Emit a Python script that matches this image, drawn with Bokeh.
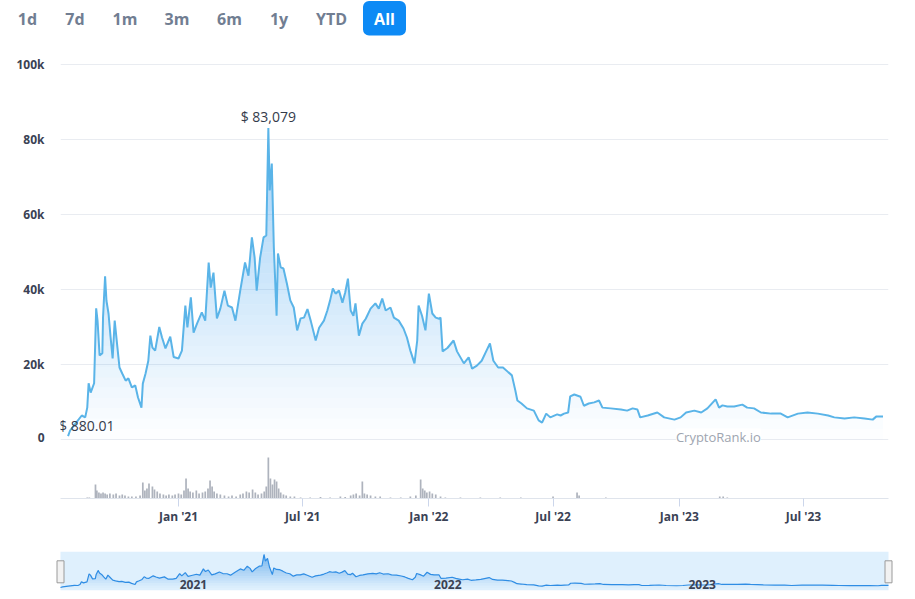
import numpy as np
import pandas as pd
from bokeh.plotting import figure
from bokeh.layouts import column
from bokeh.models import (Range1d, FixedTicker, NumeralTickFormatter,
                          DatetimeTickFormatter, Label)
from bokeh.embed import file_html
from bokeh.resources import INLINE
from bokeh.core.properties import value

# ---------------- data ----------------
range_buttons = ["1d", "7d", "1m", "3m", "6m", "1y", "YTD", "All"]
active_button = "All"

price_dates = [
    "2020-07-24", "2020-07-27", "2020-08-04", "2020-08-13", "2020-08-18", "2020-08-21",
    "2020-08-23", "2020-08-26", "2020-08-31", "2020-09-03", "2020-09-05", "2020-09-08",
    "2020-09-12", "2020-09-13", "2020-09-16", "2020-09-18", "2020-09-21", "2020-09-24",
    "2020-09-27", "2020-09-30", "2020-10-04", "2020-10-07", "2020-10-11", "2020-10-16",
    "2020-10-20", "2020-10-25", "2020-10-30", "2020-11-03", "2020-11-08", "2020-11-10",
    "2020-11-14", "2020-11-18", "2020-11-21", "2020-11-24", "2020-11-28", "2020-12-04",
    "2020-12-08", "2020-12-13", "2020-12-20", "2020-12-25", "2021-01-01", "2021-01-06",
    "2021-01-11", "2021-01-14", "2021-01-19", "2021-01-23", "2021-01-28", "2021-02-04",
    "2021-02-09", "2021-02-14", "2021-02-17", "2021-02-21", "2021-02-26", "2021-03-03",
    "2021-03-09", "2021-03-14", "2021-03-20", "2021-03-25", "2021-04-01", "2021-04-08",
    "2021-04-13", "2021-04-18", "2021-04-22", "2021-04-25", "2021-04-30", "2021-05-05",
    "2021-05-09", "2021-05-12", "2021-05-14", "2021-05-17", "2021-05-20", "2021-05-24",
    "2021-05-26", "2021-05-30", "2021-06-03", "2021-06-08", "2021-06-13", "2021-06-18",
    "2021-06-23", "2021-06-28", "2021-07-03", "2021-07-08", "2021-07-13", "2021-07-20",
    "2021-07-25", "2021-08-01", "2021-08-06", "2021-08-10", "2021-08-14", "2021-08-18",
    "2021-08-23", "2021-08-28", "2021-09-01", "2021-09-05", "2021-09-09", "2021-09-13",
    "2021-09-16", "2021-09-21", "2021-09-26", "2021-10-01", "2021-10-08", "2021-10-15",
    "2021-10-20", "2021-10-25", "2021-10-30", "2021-11-06", "2021-11-11", "2021-11-18",
    "2021-11-25", "2021-11-30", "2021-12-05", "2021-12-11", "2021-12-15", "2021-12-17",
    "2021-12-22", "2021-12-27", "2022-01-01", "2022-01-06", "2022-01-11", "2022-01-16",
    "2022-01-18", "2022-01-21", "2022-01-28", "2022-02-06", "2022-02-11", "2022-02-16",
    "2022-02-21", "2022-02-28", "2022-03-05", "2022-03-12", "2022-03-19", "2022-03-26",
    "2022-03-31", "2022-04-05", "2022-04-12", "2022-04-19", "2022-04-27", "2022-05-02",
    "2022-05-07", "2022-05-10", "2022-05-16", "2022-05-24", "2022-06-03", "2022-06-10",
    "2022-06-15", "2022-06-21", "2022-06-27", "2022-07-07", "2022-07-12", "2022-07-17",
    "2022-07-23", "2022-07-26", "2022-08-01", "2022-08-10", "2022-08-15", "2022-08-22",
    "2022-08-30", "2022-09-06", "2022-09-11", "2022-09-23", "2022-10-08", "2022-10-17",
    "2022-10-25", "2022-11-01", "2022-11-05", "2022-11-16", "2022-11-30", "2022-12-10",
    "2022-12-25", "2023-01-03", "2023-01-11", "2023-01-23", "2023-02-02", "2023-02-11",
    "2023-02-19", "2023-02-23", "2023-02-28", "2023-03-05", "2023-03-12", "2023-03-22",
    "2023-04-03", "2023-04-10", "2023-04-20", "2023-04-30", "2023-05-15", "2023-05-29",
    "2023-06-08", "2023-06-23", "2023-07-07", "2023-07-22", "2023-08-06", "2023-08-15",
    "2023-08-30", "2023-09-13", "2023-09-28", "2023-10-10", "2023-10-15", "2023-10-25",
]
price_usd = [
    880.01, 2400, 4300, 6400, 5900, 8500,
    15000, 12500, 15000, 35000, 31700, 22400,
    23000, 32600, 43500, 37000, 33600, 27300,
    21600, 31700, 24500, 19200, 17600, 15700,
    16300, 13900, 14400, 11200, 8500, 14900,
    17600, 21000, 27700, 24500, 23700, 30000,
    27200, 24300, 27400, 22000, 21600, 23700,
    35700, 29900, 37900, 28500, 30900, 33900,
    31700, 47200, 40500, 44500, 32300, 34900,
    39700, 35700, 35200, 31700, 39700, 47200,
    43700, 53900, 48500, 39700, 48500, 53900,
    54400, 83079, 66400, 73600, 51200, 33000,
    49600, 45900, 45600, 41600, 37100, 35200,
    29100, 32300, 32500, 34800, 31500, 26400,
    29800, 31700, 34400, 37100, 40300, 38900,
    39700, 36500, 39200, 42900, 34400, 33000,
    36300, 27700, 30900, 32200, 34900, 36300,
    34900, 37600, 34400, 35200, 32500, 31700,
    29600, 27200, 23700, 20300, 26400, 35700,
    33000, 29100, 38900, 33600, 32500, 32200,
    32500, 23500, 24400, 26400, 23500, 21900,
    20300, 21900, 18900, 19700, 21000, 23700,
    25600, 21000, 19200, 19200, 17900, 17100,
    13100, 10400, 9600, 8300, 7700, 5100,
    4500, 6900, 5900, 6700, 6400, 6900,
    7200, 11500, 12000, 11400, 9000, 9600,
    9900, 10400, 8500, 8300, 8000, 7700,
    8300, 8000, 5900, 6400, 7200, 5900,
    5300, 5900, 7200, 7700, 7200, 8300,
    9900, 10700, 8500, 9100, 8800, 8800,
    9300, 8500, 8300, 7200, 6900, 6900,
    5900, 6900, 7200, 6900, 6400, 5900,
    5600, 5900, 5600, 5300, 6100, 6100,
]

volume_dates = [
    "2020-08-21", "2020-08-24", "2020-09-02", "2020-09-04", "2020-09-07", "2020-09-10",
    "2020-09-13", "2020-09-16", "2020-09-19", "2020-09-23", "2020-09-28", "2020-10-02",
    "2020-10-07", "2020-10-11", "2020-10-15", "2020-10-20", "2020-10-25", "2020-10-31",
    "2020-11-06", "2020-11-10", "2020-11-13", "2020-11-16", "2020-11-19", "2020-11-24",
    "2020-11-27", "2020-12-01", "2020-12-05", "2020-12-10", "2020-12-14", "2020-12-18",
    "2020-12-23", "2020-12-27", "2021-01-01", "2021-01-05", "2021-01-09", "2021-01-12",
    "2021-01-15", "2021-01-18", "2021-01-22", "2021-01-27", "2021-01-31", "2021-02-05",
    "2021-02-09", "2021-02-13", "2021-02-16", "2021-02-19", "2021-02-22", "2021-02-26",
    "2021-03-03", "2021-03-09", "2021-03-15", "2021-03-20", "2021-03-26", "2021-04-01",
    "2021-04-05", "2021-04-10", "2021-04-14", "2021-04-19", "2021-04-23", "2021-04-27",
    "2021-05-02", "2021-05-06", "2021-05-09", "2021-05-12", "2021-05-15", "2021-05-18",
    "2021-05-21", "2021-05-24", "2021-05-27", "2021-05-30", "2021-06-03", "2021-06-07",
    "2021-06-13", "2021-06-19", "2021-06-28", "2021-07-12", "2021-07-27", "2021-08-10",
    "2021-08-25", "2021-09-01", "2021-09-09", "2021-09-13", "2021-09-17", "2021-09-22",
    "2021-09-26", "2021-09-29", "2021-10-03", "2021-10-08", "2021-10-15", "2021-10-22",
    "2021-11-06", "2021-11-21", "2021-12-05", "2021-12-13", "2021-12-20", "2021-12-23",
    "2021-12-26", "2021-12-29", "2022-01-02", "2022-01-06", "2022-01-11", "2022-01-18",
    "2022-01-25", "2022-02-16", "2022-03-17", "2022-04-15", "2022-05-15", "2022-07-01",
    "2022-08-05", "2022-08-08", "2022-09-16", "2023-03-01", "2023-03-06", "2023-03-12",
]
volume_musd = [
    1, 1, 14, 8, 6, 5,
    6, 5, 4, 5, 4, 5,
    3, 4, 3, 2, 2, 2,
    3, 16, 8, 10, 15, 12,
    9, 7, 5, 4, 3, 4,
    3, 4, 5, 4, 8, 20,
    10, 7, 6, 8, 5, 6,
    7, 10, 18, 12, 7, 5,
    4, 3, 2, 3, 2, 4,
    5, 7, 6, 9, 6, 4,
    5, 7, 12, 41, 20, 14,
    19, 17, 10, 6, 4, 3,
    2, 2, 1, 1, 1.5, 1,
    2, 1.5, 3, 4, 5, 3,
    17, 5, 4, 3, 2, 2,
    1, 1, 2, 3, 19, 10,
    8, 6, 7, 5, 4, 2,
    1, 1, 1, 1, 1, 2,
    6, 3, 1, 2, 2, 1,
]

y_ticks = [0, 20000, 40000, 60000, 80000, 100000]
x_tick_dates = ["2021-01-01", "2021-07-01", "2022-01-01", "2022-07-01", "2023-01-01", "2023-07-01"]
nav_year_dates = ["2021-01-01", "2022-01-01", "2023-01-01"]
nav_year_labels = ["2021", "2022", "2023"]
view_start = "2020-07-13"
view_end = "2023-11-02"
watermark = "CryptoRank.io"

# ---------------- styles ----------------
FONT = value("Open Sans")
LABEL_COLOR = "#3a4254"
LINE_COLOR = "#5ab4e8"
FILL_COLOR = "#3fa0ee"
NAV_LINE = "#2f8de4"
NAV_BG = "#dff0fd"
VOL_COLOR = "#aeb3bd"
GRID_COLOR = "#e9ecf1"
BTN_BLUE = "#0d8af5"
BTN_GRAY = "#717e92"
W = 907

dates = pd.to_datetime(price_dates)
prices = np.array(price_usd, dtype=float)
vdates = pd.to_datetime(volume_dates)
x0 = pd.Timestamp(view_start)
x1 = pd.Timestamp(view_end)


def strip(fig):
    fig.grid.visible = False
    fig.outline_line_color = None
    fig.background_fill_color = "white"
    fig.border_fill_color = "white"


def gradient_area(fig, x, v, color, max_alpha, n):
    vmax = float(np.max(v))
    levels = np.linspace(0, vmax, n + 1)
    for i in range(n):
        y1 = np.minimum(v, levels[i])
        y2 = np.minimum(v, levels[i + 1])
        fig.varea(x=x, y1=y1, y2=y2, fill_color=color,
                  fill_alpha=max_alpha * (i + 0.5) / n)


# ---------------- range buttons ----------------
pb = figure(width=W, height=45, x_range=Range1d(0, W), y_range=Range1d(45, 0),
            x_axis_type=None, y_axis_type=None, output_backend="svg",
            toolbar_location=None, min_border=0, frame_align=False)
strip(pb)
btn_centers = [27, 74.5, 124.5, 176.5, 229, 278.5, 331, 384]
ai = range_buttons.index(active_button)
pb.quad(left=[btn_centers[ai] - 21.5], right=[btn_centers[ai] + 21.5], top=[0.5], bottom=[35],
        fill_color=BTN_BLUE, line_color=None, border_radius=6)
pb.text(x=btn_centers, y=[18.5] * len(range_buttons), text=range_buttons,
        text_align="center", text_baseline="middle", text_font=FONT,
        text_font_style="bold", text_font_size="16px",
        text_color=["white" if b == active_button else BTN_GRAY for b in range_buttons])

# ---------------- main price chart ----------------
p = figure(width=W, height=400, x_range=Range1d(x0, x1), y_range=Range1d(-1600, 102133),
           x_axis_type=None, output_backend="svg", toolbar_location=None,
           min_border_left=60, min_border_right=19, min_border_top=11, min_border_bottom=0)
strip(p)
p.ygrid.visible = True
p.ygrid.grid_line_color = GRID_COLOR
p.ygrid.ticker = FixedTicker(ticks=y_ticks)
ya = p.yaxis[0]
ya.ticker = FixedTicker(ticks=y_ticks)
ya.formatter = NumeralTickFormatter(format="0a")
ya.axis_line_color = None
ya.major_tick_line_color = None
ya.minor_tick_line_color = None
ya.major_tick_out = 0
ya.major_tick_in = 0
ya.major_label_standoff = 16
ya.major_label_text_font = "Open Sans"
ya.major_label_text_font_style = "bold"
ya.major_label_text_font_size = "12px"
ya.major_label_text_color = LABEL_COLOR

gradient_area(p, dates, prices, FILL_COLOR, 0.5, 30)
p.line(dates, prices, line_color=LINE_COLOR, line_width=2)

imax = int(np.argmax(prices))
imin = int(np.argmin(prices))
p.text(x=[dates[imax]], y=[prices[imax]], text=[f"$ {prices[imax]:,.0f}"],
       text_align="center", text_baseline="bottom", y_offset=-2,
       text_font=FONT, text_font_size="14px", text_color="#343b4b")
p.text(x=[dates[imin]], y=[prices[imin]], text=[f"$ {prices[imin]:,.2f}"],
       text_align="left", text_baseline="bottom", x_offset=-9, y_offset=-1,
       text_font=FONT, text_font_size="14px", text_color="#343b4b")

wm = Label(x=pd.Timestamp("2023-02-27"), y=0, text=watermark, text_align="center",
           text_baseline="middle", text_font="Open Sans", text_font_size="13px",
           text_color="#9ea5b0", background_fill_color="white", y_offset=2)
p.add_layout(wm)

# ---------------- volume ----------------
pv = figure(width=W, height=90, x_range=p.x_range, y_range=Range1d(0, 53),
            x_axis_type="datetime", y_axis_type=None, output_backend="svg",
            toolbar_location=None, min_border_left=60, min_border_right=19,
            min_border_top=0, min_border_bottom=37)
strip(pv)
day_ms = 86400000
pv.vbar(x=vdates, top=volume_musd, width=2.5 * day_ms, fill_color=VOL_COLOR, line_color=None)
xa = pv.xaxis[0]
xa.ticker = FixedTicker(ticks=[pd.Timestamp(d).value // 10**6 for d in x_tick_dates])
fmt = "%b '%y"
xa.formatter = DatetimeTickFormatter(days=fmt, months=fmt, years=fmt, hours=fmt)
xa.axis_line_color = "#dfe4ec"
xa.major_tick_line_color = "#ccd6eb"
xa.minor_tick_line_color = None
xa.major_tick_in = 0
xa.major_tick_out = 8
xa.major_label_standoff = 1
xa.major_label_text_font = "Open Sans"
xa.major_label_text_font_style = "bold"
xa.major_label_text_font_size = "12px"
xa.major_label_text_color = LABEL_COLOR

# ---------------- navigator ----------------
n0, n1 = dates[0], dates[-1]
pad = (n1 - n0) * (8 / 828)
ny0, ny1 = -6500, 90500
pn = figure(width=W, height=60, x_range=Range1d(n0 - pad, n1 + pad), y_range=Range1d(ny0, ny1),
            x_axis_type=None, y_axis_type=None, output_backend="svg",
            toolbar_location=None, min_border_left=52, min_border_right=11,
            min_border_top=16, min_border_bottom=5, frame_align=False)
strip(pn)
pn.quad(left=[n0], right=[n1], bottom=[ny0], top=[ny1], fill_color=NAV_BG, line_color=None)
gradient_area(pn, dates, prices, "#2f8de4", 0.6, 14)
pn.line(dates, prices, line_color=NAV_LINE, line_width=1.2)
pn.text(x=pd.to_datetime(nav_year_dates), y=[ny0] * len(nav_year_dates), text=nav_year_labels,
        text_align="left", text_baseline="bottom", x_offset=7, y_offset=-2,
        text_font=FONT, text_font_style="bold", text_font_size="12px", text_color=LABEL_COLOR)
pn.rect(x=[n0, n1], y=[(ny0 + ny1) / 2 - 2000] * 2, width=7, height=22,
        width_units="screen", height_units="screen", fill_color="#f2f2f2",
        line_color="#9a9a9a", line_width=1)

layout = column(pb, p, pv, pn, spacing=0)
open("out.html", "w").write(file_html(layout, INLINE))
